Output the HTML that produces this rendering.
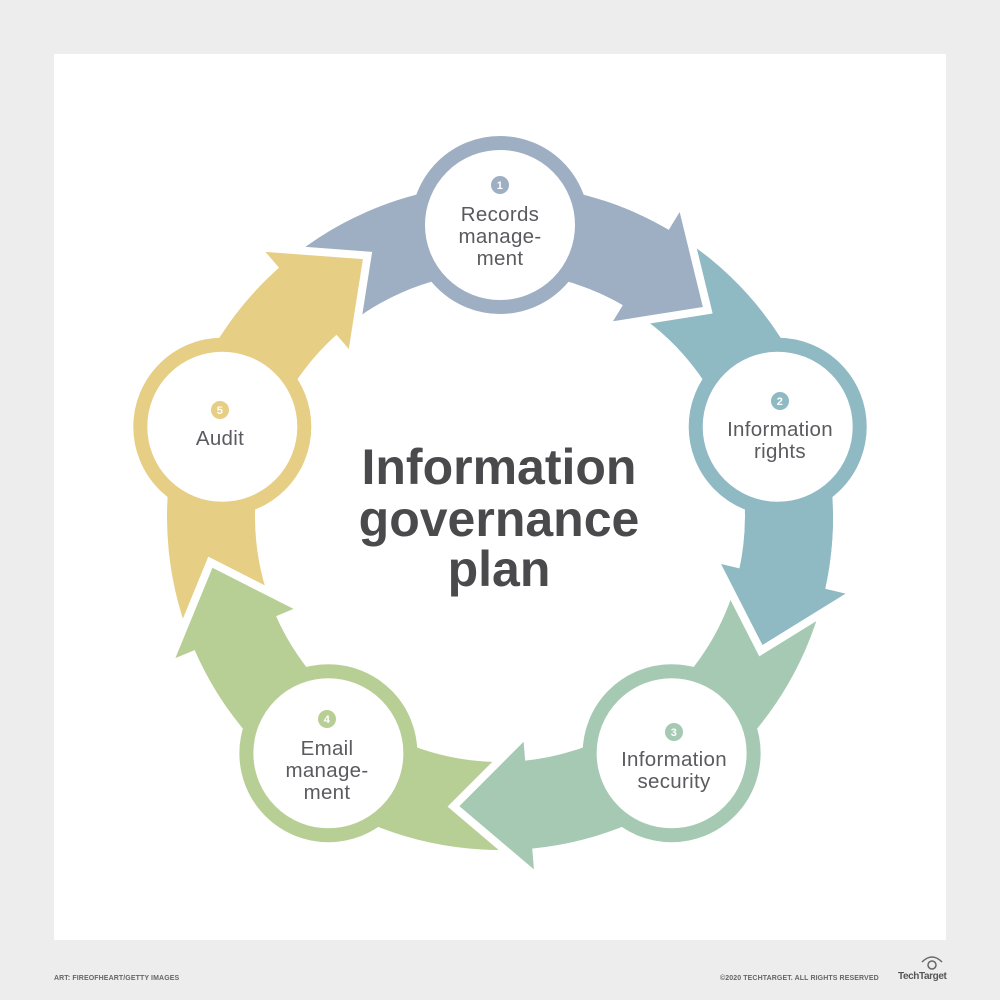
<!DOCTYPE html>
<html><head><meta charset="utf-8">
<style>
html,body{margin:0;padding:0;background:#ededed;}
#wrap{position:relative;width:1000px;height:1000px;overflow:hidden;background:#ededed;font-family:"Liberation Sans",sans-serif;}
#panel{position:absolute;left:54px;top:54px;width:892px;height:886px;background:#fff;}
svg{position:absolute;left:0;top:0;}
.foot{position:absolute;font-size:7px;color:#666;font-weight:bold;letter-spacing:0.1px;white-space:nowrap;}
</style></head><body>
<div id="wrap">
<div id="panel"></div>
<svg id="s" width="1000" height="1000" viewBox="0 0 1000 1000">
<g id="bodies"></g><g id="heads"></g><g id="circles"></g>
<g font-family="Liberation Sans, sans-serif" fill="#5b5b5f" font-size="20.5" text-anchor="middle" letter-spacing="0.3">
<circle cx="500" cy="185" r="9" fill="#9eafc4"/><text x="500" y="189" font-size="11" font-weight="bold" fill="#fff">1</text>
<text x="500" y="221">Records</text><text x="500" y="243">manage-</text><text x="500" y="265">ment</text>
<circle cx="780" cy="401" r="9" fill="#8fb9c3"/><text x="780" y="405" font-size="11" font-weight="bold" fill="#fff">2</text>
<text x="780" y="436">Information</text><text x="780" y="458">rights</text>
<circle cx="674" cy="732" r="9" fill="#a5c9b2"/><text x="674" y="736" font-size="11" font-weight="bold" fill="#fff">3</text>
<text x="674" y="766">Information</text><text x="674" y="788">security</text>
<circle cx="327" cy="719" r="9" fill="#b7cf94"/><text x="327" y="723" font-size="11" font-weight="bold" fill="#fff">4</text>
<text x="327" y="755">Email</text><text x="327" y="777">manage-</text><text x="327" y="799">ment</text>
<circle cx="220" cy="410" r="9" fill="#e6ce84"/><text x="220" y="414" font-size="11" font-weight="bold" fill="#fff">5</text>
<text x="220" y="445">Audit</text>
</g>
<g font-family="Liberation Sans, sans-serif" font-weight="bold" fill="#4a4a4c" font-size="50" text-anchor="middle">
<text x="499" y="484">Information</text>
<text x="499" y="536">governance</text>
<text x="499" y="586">plan</text>
</g>
</svg>
<div class="foot" style="left:54px;top:975px;">ART: FIREOFHEART/GETTY IMAGES</div>
<div class="foot" style="left:720px;top:975px;">©2020 TECHTARGET. ALL RIGHTS RESERVED</div>
<div class="foot" style="left:898px;top:971px;font-size:10px;color:#555;letter-spacing:-0.4px;">TechTarget</div>
<svg width="1000" height="1000" style="pointer-events:none"><circle cx="932" cy="965" r="4" fill="none" stroke="#666" stroke-width="1.5"/><path d="M922 962 Q932 952 942 962" fill="none" stroke="#666" stroke-width="1.5"/></svg>
</div>
<script>
(function(){
var C=[500,517],R=292,ri=245,ro=333;
var cols=["#9eafc4","#8fb9c3","#a5c9b2","#b7cf94","#e6ce84"];
var ns="http://www.w3.org/2000/svg";
function P(a,r){a=a*Math.PI/180;return (C[0]+r*Math.cos(a)).toFixed(2)+","+(C[1]+r*Math.sin(a)).toFixed(2);}
function arc(a0,a1){var p1=P(a0,ro),p2=P(a1,ro),p3=P(a1,ri),p4=P(a0,ri);var l=(a1-a0)>180?1:0;
return "M"+p1+" A"+ro+","+ro+" 0 "+l+" 1 "+p2+" L"+p3+" A"+ri+","+ri+" 0 "+l+" 0 "+p4+"Z";}
function el(t,at,par){var e=document.createElementNS(ns,t);for(var k in at)e.setAttribute(k,at[k]);document.getElementById(par).appendChild(e);return e;}
for(var i=0;i<5;i++){var th=-90+72*i;el("path",{d:arc(th-42,th+31),fill:cols[i]},"bodies");}
for(var i=0;i<5;i++){var th=-90+72*i;
var a=P(th+30,226),b=P(th+30.5,354),t=P(th+44,292);
el("path",{d:"M"+a+" L"+t+" L"+b,fill:"none",stroke:"#fff","stroke-width":16,"stroke-linejoin":"miter","stroke-miterlimit":10},"heads");
el("path",{d:arc(th+18,th+31),fill:cols[i]},"heads");
el("polygon",{points:a+" "+b+" "+t,fill:cols[i]},"heads");}
for(var i=0;i<5;i++){var th=-90+72*i;var c=P(th,R).split(",");
el("circle",{cx:c[0],cy:c[1],r:82,fill:"#fff",stroke:cols[i],"stroke-width":14},"circles");}
})();
</script>
</body></html>
